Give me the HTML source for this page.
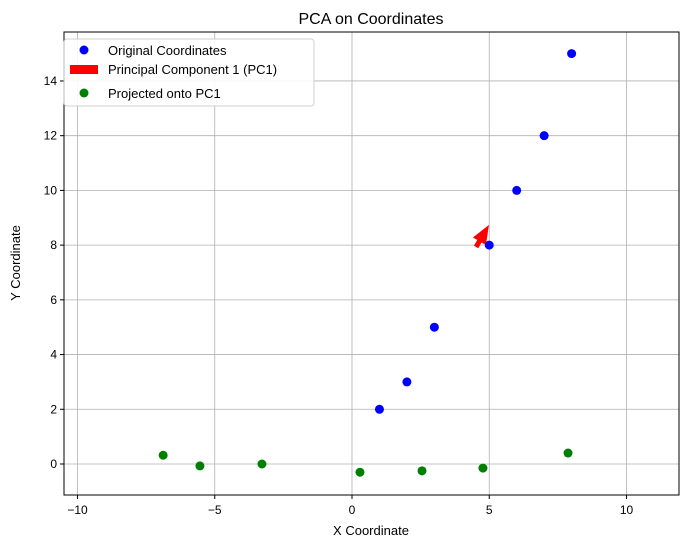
<!DOCTYPE html>
<html><head><meta charset="utf-8"><style>
body{margin:0;background:#fff;font-family:"Liberation Sans",sans-serif}
</style></head><body>
<svg id="chart" width="686" height="547" xmlns="http://www.w3.org/2000/svg" font-family="Liberation Sans, sans-serif">
<g id="grid"></g>
<g id="marks"></g>
<rect x="64" y="32" width="615" height="463" fill="none" stroke="#000" stroke-width="1"/>
<g id="ticks"></g>
<text x="371" y="24" text-anchor="middle" font-size="16">PCA on Coordinates</text>
<text x="371" y="535" text-anchor="middle" font-size="13">X Coordinate</text>
<text x="20" y="263" text-anchor="middle" font-size="13" transform="rotate(-90 20 263)">Y Coordinate</text>
<g>
<rect x="64" y="39" width="250" height="67" fill="#fff" stroke="#ccc" rx="3" opacity="0.9"/>
<circle cx="84" cy="50" r="4.5" fill="blue"/>
<text x="108" y="55" font-size="13">Original Coordinates</text>
<rect x="70" y="65" width="28" height="9" fill="red"/>
<text x="108" y="74" font-size="13">Principal Component 1 (PC1)</text>
<circle cx="84" cy="93" r="4.5" fill="green"/>
<text x="108" y="98" font-size="13">Projected onto PC1</text>
</g>
</svg>
<script>
const xTicks=[-10,-5,0,5,10];
const yTicks=[0,2,4,6,8,10,12,14];
const origX=[1,2,3,5,6,7,8];
const origY=[2,3,5,8,10,12,15];
const projX=[-6.88,-5.54,-3.28,0.29,2.55,4.77,7.87];
const projY=[0.32,-0.07,0.0,-0.30,-0.25,-0.15,0.40];
const arrowStart=[4.52,7.93];
const arrowVec=[0.47,0.81];
const sx=v=>352+v*27.45, sy=v=>464-v*27.36;
const NS="http://www.w3.org/2000/svg";
const g=document.getElementById('grid'),m=document.getElementById('marks'),t=document.getElementById('ticks');
function mk(p,tag,a){const e=document.createElementNS(NS,tag);for(const k in a)e.setAttribute(k,a[k]);p.appendChild(e);return e;}
xTicks.forEach(v=>{const x=sx(v);
const l=mk(g,'line',{x1:x,x2:x,y1:32,y2:495,stroke:'#b0b0b0','stroke-width':0.8});

mk(t,'line',{x1:x,x2:x,y1:495,y2:499,stroke:'#000'});
const tx=mk(t,'text',{x:x,y:514,'text-anchor':'middle','font-size':12});tx.textContent=v<0?'\u2212'+(-v):v;
});
yTicks.forEach(v=>{const y=sy(v);
const l=mk(g,'line',{x1:64,x2:679,y1:y,y2:y,stroke:'#b0b0b0','stroke-width':0.8});

mk(t,'line',{x1:60,x2:64,y1:y,y2:y,stroke:'#000'});
const tx=mk(t,'text',{x:57,y:y+4,'text-anchor':'end','font-size':12});tx.textContent=v;
});
origX.forEach((v,i)=>{const c=mk(m,'circle',{cx:sx(v),cy:sy(origY[i]),r:4.5,fill:'blue'});
});
projX.forEach((v,i)=>{const c=mk(m,'circle',{cx:sx(v),cy:sy(projY[i]),r:4.5,fill:'green'});
});
const x0=sx(arrowStart[0]),y0=sy(arrowStart[1]),x1=sx(arrowStart[0]+arrowVec[0]),y1=sy(arrowStart[1]+arrowVec[1]);
const dx=x1-x0,dy=y1-y0,L=Math.hypot(dx,dy),ux=dx/L,uy=dy/L,px=-uy,py=ux;
const hl=Math.min(19,L*0.8),sw=2.5,hw=7.5;
const bx=x1-ux*hl,by=y1-uy*hl;
const pts=[[x0+px*sw,y0+py*sw],[bx+px*sw,by+py*sw],[bx+px*hw,by+py*hw],[x1,y1],[bx-px*hw,by-py*hw],[bx-px*sw,by-py*sw],[x0-px*sw,y0-py*sw]];
const a=mk(m,'polygon',{points:pts.map(p=>p.join(',')).join(' '),fill:'red'});

m.appendChild(m.querySelectorAll('circle')[3]);
</script>
</body></html>
